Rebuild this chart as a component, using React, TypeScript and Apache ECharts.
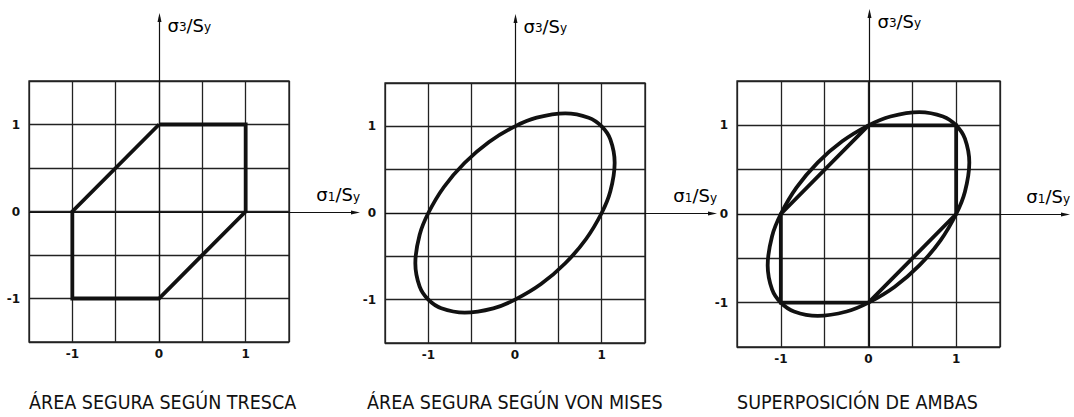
import React, { useEffect, useRef } from "react";
import * as echarts from "echarts";

// Normalised principal stresses (σ1/Sy, σ3/Sy)
const tickValues = [-1, 0, 1];
const axisMin = -1.5;
const axisMax = 1.5;
const gridStep = 0.5;

// Tresca hexagon vertices (closed)
const trescaS1 = [0, 1, 1, 0, -1, -1, 0];
const trescaS3 = [1, 1, 0, -1, -1, 0, 1];

// Von Mises ellipse, points around the boundary
const misesS1 = [1, 1.1, 1.15, 1.1, 1, 0.85, 0.58, 0.25, 0, -0.3, -0.58, -0.82, -1, -1.1, -1.15, -1.1, -1, -0.85, -0.58, -0.25, 0, 0.3, 0.58, 0.82];
const misesS3 = [0, 0.25, 0.58, 0.85, 1, 1.1, 1.15, 1.1, 1, 0.82, 0.58, 0.3, 0, -0.25, -0.58, -0.85, -1, -1.1, -1.15, -1.1, -1, -0.82, -0.58, -0.3];

const panelTitles = ["ÁREA SEGURA SEGÚN TRESCA", "ÁREA SEGURA SEGÚN VON MISES", "SUPERPOSICIÓN DE AMBAS"];

// Layout of the three panels (pixels)
const panels = [
  { left: 29, top: 81, width: 260, height: 261, tipY: 13, tipX: 360, titleX: 29 },
  { left: 385, top: 83, width: 260, height: 260, tipY: 14, tipX: 717, titleX: 367 },
  { left: 737, top: 81, width: 263, height: 266, tipY: 9, tipX: 1070, titleX: 737 },
];

const ink = "#111";
const gridInk = "#222";
const labelFont = "DejaVu Sans";

const axisNameRich = {
  a: { fontSize: 18, fontFamily: labelFont, color: ink, verticalAlign: "bottom" },
  b: { fontSize: 12, fontFamily: labelFont, color: ink, verticalAlign: "bottom", padding: [0, 0, 1, 0] },
};

function axesRenderer(p: typeof panels[number]) {
  return (params: any, api: any) => {
    if (params.dataIndex !== 0) return null;
    const cs = params.coordSys;
    const o = api.coord([0, 0]);
    const ox = Math.round(o[0]) + 0.5;
    const oy = Math.round(o[1]) + 0.5;
    const lineStyle = { stroke: ink, lineWidth: 1.2 };
    return {
      type: "group",
      children: [
        { type: "line", shape: { x1: ox, y1: cs.y + cs.height, x2: ox, y2: p.tipY + 4 }, style: lineStyle },
        { type: "polygon", shape: { points: [[ox, p.tipY], [ox - 2, p.tipY + 9], [ox + 2, p.tipY + 9]] }, style: { fill: ink } },
        { type: "line", shape: { x1: cs.x, y1: oy, x2: p.tipX - 4, y2: oy }, style: lineStyle },
        { type: "polygon", shape: { points: [[p.tipX, oy], [p.tipX - 9, oy - 2], [p.tipX - 9, oy + 2]] }, style: { fill: ink } },
        {
          type: "text",
          style: {
            text: "{a|σ}{b|3}{a|/S}{b|y}",
            rich: axisNameRich,
            x: ox + 8,
            y: p.tipY + 21,
            align: "left",
            verticalAlign: "bottom",
          },
        },
        {
          type: "text",
          style: {
            text: "{a|σ}{b|1}{a|/S}{b|y}",
            rich: axisNameRich,
            x: p.tipX,
            y: oy - 9,
            align: "right",
            verticalAlign: "bottom",
          },
        },
      ],
    };
  };
}

function misesRenderer(params: any, api: any) {
  if (params.dataIndex !== 0) return null;
  const pts = misesS1.map((v, i) => api.coord([v, misesS3[i]]));
  return {
    type: "polygon",
    shape: { points: pts, smooth: 0.4 },
    style: { fill: "none", stroke: ink, lineWidth: 3.8 },
  };
}

const tickFormatter = (v: number) => (tickValues.includes(v) ? String(v) : "");

export default function App() {
  const ref = useRef<HTMLDivElement>(null);

  useEffect(() => {
    document.body.style.margin = "0";
    if (!ref.current) return;
    const chart = echarts.init(ref.current, undefined, { renderer: "svg" });

    const grids = panels.map((p) => ({
      left: p.left,
      top: p.top,
      width: p.width,
      height: p.height,
      show: true,
      borderColor: gridInk,
      borderWidth: 1.3,
      backgroundColor: "transparent",
    }));

    const axisCommon = {
      type: "value" as const,
      min: axisMin,
      max: axisMax,
      interval: gridStep,
      axisLine: { show: false },
      axisTick: { show: false },
      splitLine: { show: true, lineStyle: { color: gridInk, width: 1.3 } },
      axisLabel: {
        formatter: tickFormatter,
        fontSize: 12,
        fontWeight: "bold" as const,
        fontFamily: labelFont,
        color: ink,
        showMinLabel: true,
        showMaxLabel: true,
      },
    };

    const xAxes = panels.map((_, i) => ({ ...axisCommon, gridIndex: i, axisLabel: { ...axisCommon.axisLabel, margin: 6 } }));
    const yAxes = panels.map((_, i) => ({ ...axisCommon, gridIndex: i, axisLabel: { ...axisCommon.axisLabel, margin: 9 } }));

    const tresca = trescaS1.map((x, i) => [x, trescaS3[i]]);
    const mises = misesS1.map((x, i) => [x, misesS3[i]]);

    const series: any[] = [];
    panels.forEach((p, i) => {
      series.push({
        type: "custom",
        xAxisIndex: i,
        yAxisIndex: i,
        data: [[0, 0]],
        renderItem: axesRenderer(p),
        silent: true,
        z: 1,
      });
    });
    [0, 2].forEach((i) => {
      series.push({
        type: "line",
        name: "Tresca",
        xAxisIndex: i,
        yAxisIndex: i,
        data: tresca,
        showSymbol: false,
        symbol: "none",
        lineStyle: { color: ink, width: 3.8, join: "miter" },
        z: 3,
      });
    });
    [1, 2].forEach((i) => {
      series.push({
        type: "custom",
        name: "Von Mises",
        xAxisIndex: i,
        yAxisIndex: i,
        data: mises,
        renderItem: misesRenderer,
        z: 4,
      });
    });

    chart.setOption({
      animation: false,
      backgroundColor: "#fff",
      grid: grids,
      xAxis: xAxes,
      yAxis: yAxes,
      series,
      graphic: panels.map((p, i) => ({
        type: "text",
        x: p.titleX,
        y: 402,
        style: {
          text: panelTitles[i],
          fontSize: 19.5,
          fontFamily: "DejaVu Sans Condensed",
          fill: ink,
          verticalAlign: "middle",
        },
      })),
    });

    return () => chart.dispose();
  }, []);

  return <div ref={ref} style={{ width: 1074, height: 417 }} />;
}
